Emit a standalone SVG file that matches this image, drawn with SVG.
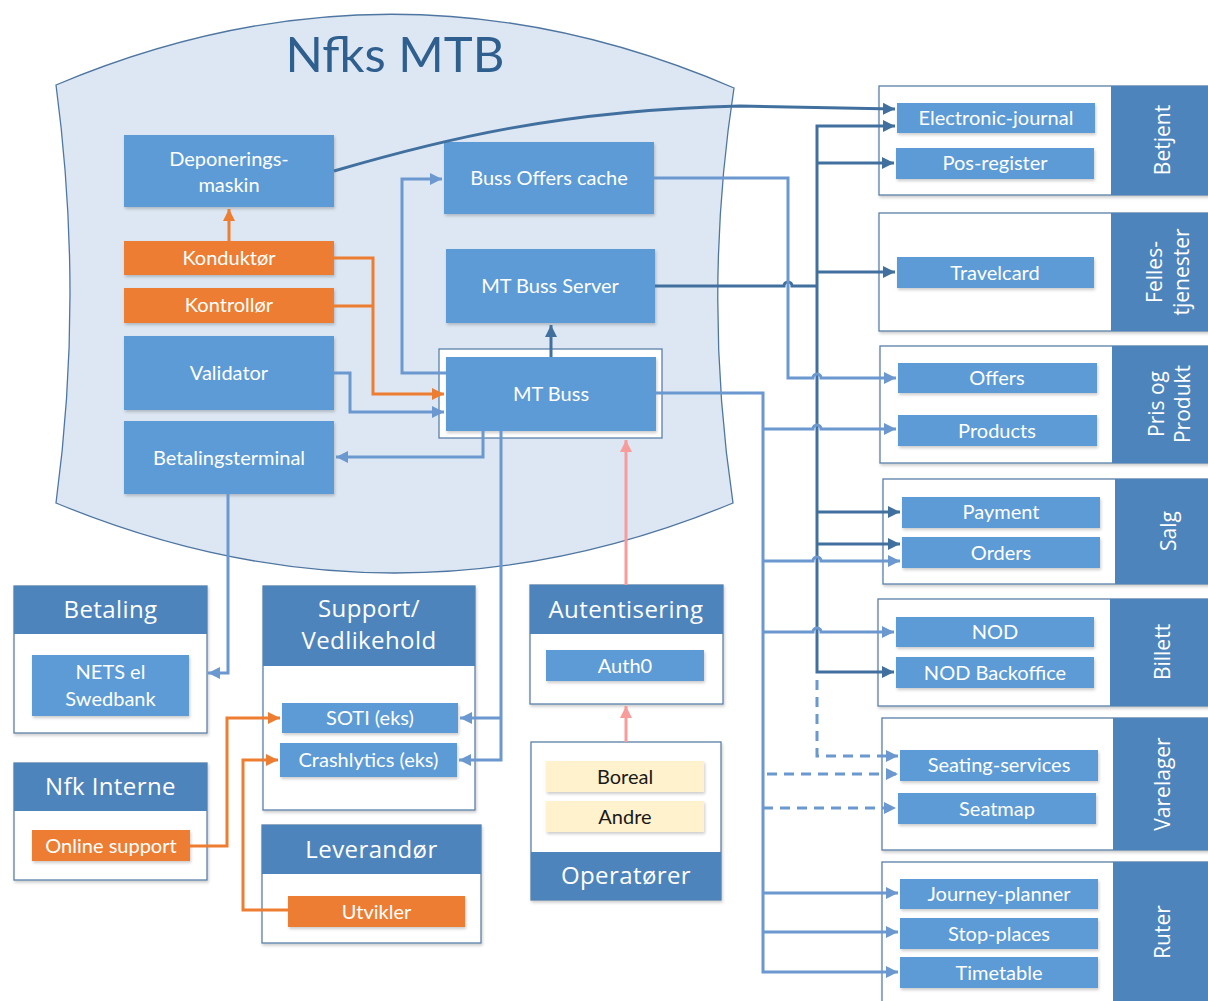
<svg xmlns="http://www.w3.org/2000/svg" width="1208" height="1001" viewBox="0 0 1208 1001">
<defs>
<style>
.bg{fill:#ffffff}
.mtb{fill:#dce7f3;stroke:#4f76a0;stroke-width:1.3}
.box{fill:#5b9bd5;filter:url(#sh)}
.org{fill:#ed7d31;filter:url(#sh)}
.yel{fill:#fff2cc;filter:url(#sh)}
.frame{fill:#ffffff;stroke:#5b80a8;stroke-width:1.3}
.panel{fill:#ffffff;stroke:#5b80a8;stroke-width:1.3;filter:url(#sh)}
.hdr{fill:#4e84bc}
.t{font-family:Lato,"Open Sans",sans-serif;font-size:20px;fill:#ffffff;text-anchor:middle}
.td{font-family:Lato,"Open Sans",sans-serif;font-size:20px;fill:#1a1a1a;text-anchor:middle}
.h{font-family:"Open Sans","DejaVu Sans",sans-serif;font-size:24px;letter-spacing:0.4px;fill:#ffffff;text-anchor:middle}
.hr{font-family:"Open Sans","DejaVu Sans",sans-serif;font-size:21px;fill:#ffffff;text-anchor:middle}
.title{font-family:Lato,"Open Sans",sans-serif;font-size:49px;fill:#2f5f8f;text-anchor:middle}
.cl{fill:none;stroke:#6b98cf;stroke-width:3}
.cd{fill:none;stroke:#41709f;stroke-width:3}
.co{fill:none;stroke:#ed7d31;stroke-width:3}
.cp{fill:none;stroke:#f79b9b;stroke-width:3}
.dash{stroke-dasharray:10 7}
</style>
<filter id="sh" x="-10%" y="-10%" width="120%" height="130%">
<feDropShadow dx="1" dy="2" stdDeviation="1.5" flood-color="#000000" flood-opacity="0.2"/>
</filter>
<marker id="aL" viewBox="0 0 10 10" refX="10" refY="5" markerWidth="12" markerHeight="12" markerUnits="userSpaceOnUse" orient="auto"><path d="M0,0 L10,5 L0,10 z" fill="#6b98cf"/></marker>
<marker id="aD" viewBox="0 0 10 10" refX="10" refY="5" markerWidth="12" markerHeight="12" markerUnits="userSpaceOnUse" orient="auto"><path d="M0,0 L10,5 L0,10 z" fill="#41709f"/></marker>
<marker id="aO" viewBox="0 0 10 10" refX="10" refY="5" markerWidth="12" markerHeight="12" markerUnits="userSpaceOnUse" orient="auto"><path d="M0,0 L10,5 L0,10 z" fill="#ed7d31"/></marker>
<marker id="aP" viewBox="0 0 10 10" refX="10" refY="5" markerWidth="12" markerHeight="12" markerUnits="userSpaceOnUse" orient="auto"><path d="M0,0 L10,5 L0,10 z" fill="#f79b9b"/></marker>
</defs>
<rect class="bg" x="0" y="0" width="1208" height="1001"/>

<g id="nfks-mtb">
<path class="mtb" d="M56,85 Q395,-58 734,88 Q702,295 733,503 Q395,643 56,503 Q84,295 56,85 Z"/>
<text class="title" x="395" y="72">Nfks MTB</text>
</g>

<g id="deponeringsmaskin"><rect class="box" x="124" y="135" width="210" height="72"/><text class="t" x="229" y="166">Deponerings-</text><text class="t" x="229" y="192">maskin</text></g>
<g id="buss-offers-cache"><rect class="box" x="444" y="142" width="210" height="72"/><text class="t" x="549" y="185">Buss Offers cache</text></g>
<g id="konduktor"><rect class="org" x="124" y="241" width="210" height="34"/><text class="t" x="229" y="265">Konduktør</text></g>
<g id="kontrollor"><rect class="org" x="124" y="288" width="210" height="35"/><text class="t" x="229" y="312">Kontrollør</text></g>
<g id="validator"><rect class="box" x="124" y="336" width="210" height="74"/><text class="t" x="229" y="380">Validator</text></g>
<g id="betalingsterminal"><rect class="box" x="124" y="421" width="210" height="73"/><text class="t" x="229" y="465">Betalingsterminal</text></g>
<g id="mt-buss-server"><rect class="box" x="446" y="249" width="209" height="74"/><text class="t" x="550" y="293">MT Buss Server</text></g>
<g id="mt-buss"><rect class="frame" x="439" y="349" width="223" height="89"/><rect class="box" x="446" y="357" width="210" height="74"/><text class="t" x="551" y="401">MT Buss</text></g>

<g id="betjent">
<rect class="panel" x="879" y="86" width="340" height="109"/><rect class="hdr" x="1111" y="86" width="100" height="109"/>
<text class="hr" transform="translate(1163,140) rotate(-90)" x="0" y="7">Betjent</text>
<rect class="box" x="897" y="103" width="198" height="30"/><text class="t" x="996" y="125">Electronic-journal</text>
<rect class="box" x="896" y="148" width="198" height="31"/><text class="t" x="995" y="170">Pos-register</text>
</g>
<g id="fellestjenester">
<rect class="panel" x="879" y="213" width="340" height="118"/><rect class="hdr" x="1111" y="213" width="100" height="118"/>
<text class="hr" transform="translate(1168,272) rotate(-90)"><tspan x="0" y="-6">Felles-</tspan><tspan x="0" y="21">tjenester</tspan></text>
<rect class="box" x="897" y="257" width="197" height="31"/><text class="t" x="995" y="280">Travelcard</text>
</g>
<g id="pris-og-produkt">
<rect class="panel" x="880" y="346" width="340" height="117"/><rect class="hdr" x="1112" y="346" width="100" height="117"/>
<text class="hr" transform="translate(1170,404) rotate(-90)"><tspan x="0" y="-6">Pris og</tspan><tspan x="0" y="20">Produkt</tspan></text>
<rect class="box" x="898" y="363" width="199" height="30"/><text class="t" x="997" y="385">Offers</text>
<rect class="box" x="898" y="415" width="199" height="31"/><text class="t" x="997" y="438">Products</text>
</g>
<g id="salg">
<rect class="panel" x="883" y="479" width="340" height="105"/><rect class="hdr" x="1115" y="479" width="100" height="105"/>
<text class="hr" transform="translate(1169,531) rotate(-90)" x="0" y="7">Salg</text>
<rect class="box" x="902" y="497" width="198" height="31"/><text class="t" x="1001" y="519">Payment</text>
<rect class="box" x="902" y="537" width="198" height="31"/><text class="t" x="1001" y="560">Orders</text>
</g>
<g id="billett">
<rect class="panel" x="878" y="599" width="340" height="107"/><rect class="hdr" x="1110" y="599" width="100" height="107"/>
<text class="hr" transform="translate(1163,652) rotate(-90)" x="0" y="7">Billett</text>
<rect class="box" x="896" y="617" width="198" height="30"/><text class="t" x="995" y="639">NOD</text>
<rect class="box" x="896" y="657" width="198" height="31"/><text class="t" x="995" y="680">NOD Backoffice</text>
</g>
<g id="varelager">
<rect class="panel" x="882" y="718" width="340" height="132"/><rect class="hdr" x="1113" y="718" width="100" height="132"/>
<text class="hr" transform="translate(1163,784) rotate(-90)" x="0" y="7">Varelager</text>
<rect class="box" x="900" y="750" width="198" height="31"/><text class="t" x="999" y="772">Seating-services</text>
<rect class="box" x="898" y="793" width="198" height="31"/><text class="t" x="997" y="816">Seatmap</text>
</g>
<g id="ruter">
<rect class="panel" x="882" y="862" width="340" height="150"/><rect class="hdr" x="1113" y="862" width="100" height="150"/>
<text class="hr" transform="translate(1163,932) rotate(-90)" x="0" y="7">Ruter</text>
<rect class="box" x="900" y="879" width="198" height="30"/><text class="t" x="999" y="901">Journey-planner</text>
<rect class="box" x="900" y="918" width="198" height="31"/><text class="t" x="999" y="941">Stop-places</text>
<rect class="box" x="900" y="957" width="198" height="31"/><text class="t" x="999" y="980">Timetable</text>
</g>

<g id="betaling">
<rect class="panel" x="14" y="586" width="193" height="147"/><rect class="hdr" x="14" y="586" width="193" height="48"/>
<text class="h" x="110.5" y="618">Betaling</text>
<rect class="box" x="32" y="655" width="157" height="61"/><text class="t" x="110.5" y="679">NETS el</text><text class="t" x="110.5" y="706">Swedbank</text>
</g>
<g id="support-vedlikehold">
<rect class="panel" x="263" y="586" width="212" height="224"/><rect class="hdr" x="263" y="586" width="212" height="80"/>
<text class="h" x="369" y="617">Support/</text><text class="h" x="369" y="649">Vedlikehold</text>
<rect class="box" x="282" y="703" width="176" height="30"/><text class="t" x="370" y="725">SOTI (eks)</text>
<rect class="box" x="280" y="743" width="177" height="34"/><text class="t" x="368.5" y="767">Crashlytics (eks)</text>
</g>
<g id="nfk-interne">
<rect class="panel" x="14" y="763" width="193" height="117"/><rect class="hdr" x="14" y="763" width="193" height="48"/>
<text class="h" x="110.5" y="795">Nfk Interne</text>
<rect class="org" x="32" y="830" width="158" height="31"/><text class="t" x="111" y="853">Online support</text>
</g>
<g id="leverandor">
<rect class="panel" x="262" y="825" width="219" height="118"/><rect class="hdr" x="262" y="825" width="219" height="49"/>
<text class="h" x="371.5" y="858">Leverandør</text>
<rect class="org" x="288" y="896" width="177" height="31"/><text class="t" x="376.5" y="919">Utvikler</text>
</g>
<g id="autentisering">
<rect class="panel" x="530" y="585" width="193" height="119"/><rect class="hdr" x="530" y="585" width="193" height="49"/>
<text class="h" x="626" y="618">Autentisering</text>
<rect class="box" x="546" y="650" width="158" height="31"/><text class="t" x="625" y="673">Auth0</text>
</g>
<g id="operatorer">
<rect class="panel" x="531" y="742" width="190" height="158"/><rect class="hdr" x="531" y="852" width="190" height="48"/>
<text class="h" x="626" y="884">Operatører</text>
<rect class="yel" x="546" y="761" width="158" height="31"/><text class="td" x="625" y="784">Boreal</text>
<rect class="yel" x="546" y="801" width="158" height="31"/><text class="td" x="625" y="824">Andre</text>
</g>

<g id="connectors">
<path class="cd" d="M334,171 C440,140 560,110 740,106 L895,109" marker-end="url(#aD)"/>
<path class="cd" d="M655,286 H784 a4,4 0 0 1 8,0 H817"/>
<path class="cd" d="M817,286 V126 H895" marker-end="url(#aD)"/>
<path class="cd" d="M817,163 H894" marker-end="url(#aD)"/>
<path class="cd" d="M817,272 H895" marker-end="url(#aD)"/>
<path class="cd" d="M817,286 V672 H894" marker-end="url(#aD)"/>
<path class="cd" d="M817,512 H900" marker-end="url(#aD)"/>
<path class="cd" d="M817,544 H900" marker-end="url(#aD)"/>
<path class="cd" d="M551,357 V325" marker-end="url(#aD)"/>
<path class="cl" d="M654,178 H788 V378 H813 a4,4 0 0 1 8,0 H896" marker-end="url(#aL)"/>
<path class="cl" d="M446,373 H402 V179 H442" marker-end="url(#aL)"/>
<path class="cl" d="M656,393 H763 V972 H898" marker-end="url(#aL)"/>
<path class="cl" d="M763,429 H813 a4,4 0 0 1 8,0 H896" marker-end="url(#aL)"/>
<path class="cl" d="M763,561 H813 a4,4 0 0 1 8,0 H900" marker-end="url(#aL)"/>
<path class="cl" d="M763,632 H813 a4,4 0 0 1 8,0 H894" marker-end="url(#aL)"/>
<path class="cl" d="M763,893 H898" marker-end="url(#aL)"/>
<path class="cl" d="M763,932 H898" marker-end="url(#aL)"/>
<path class="cl dash" d="M817,680 V756 H898" marker-end="url(#aL)"/>
<path class="cl dash" d="M767,774 H898" marker-end="url(#aL)"/>
<path class="cl dash" d="M763,808 H896" marker-end="url(#aL)"/>
<path class="cl" d="M334,373 H350 V412 H444" marker-end="url(#aL)"/>
<path class="cl" d="M483,431 V457 H336" marker-end="url(#aL)"/>
<path class="cl" d="M501,431 V760 H459" marker-end="url(#aL)"/>
<path class="cl" d="M501,718 H460" marker-end="url(#aL)"/>
<path class="cl" d="M228,494 V673 H208" marker-end="url(#aL)"/>
<path class="co" d="M229,241 V209" marker-end="url(#aO)"/>
<path class="co" d="M334,258 H373 V394 H444" marker-end="url(#aO)"/>
<path class="co" d="M334,306 H373"/>
<path class="co" d="M190,846 H227 V718 H280" marker-end="url(#aO)"/>
<path class="co" d="M288,910 H243 V760 H278" marker-end="url(#aO)"/>
<path class="cp" d="M626,585 V440" marker-end="url(#aP)"/>
<path class="cp" d="M626,742 V706" marker-end="url(#aP)"/>
</g>
</svg>
